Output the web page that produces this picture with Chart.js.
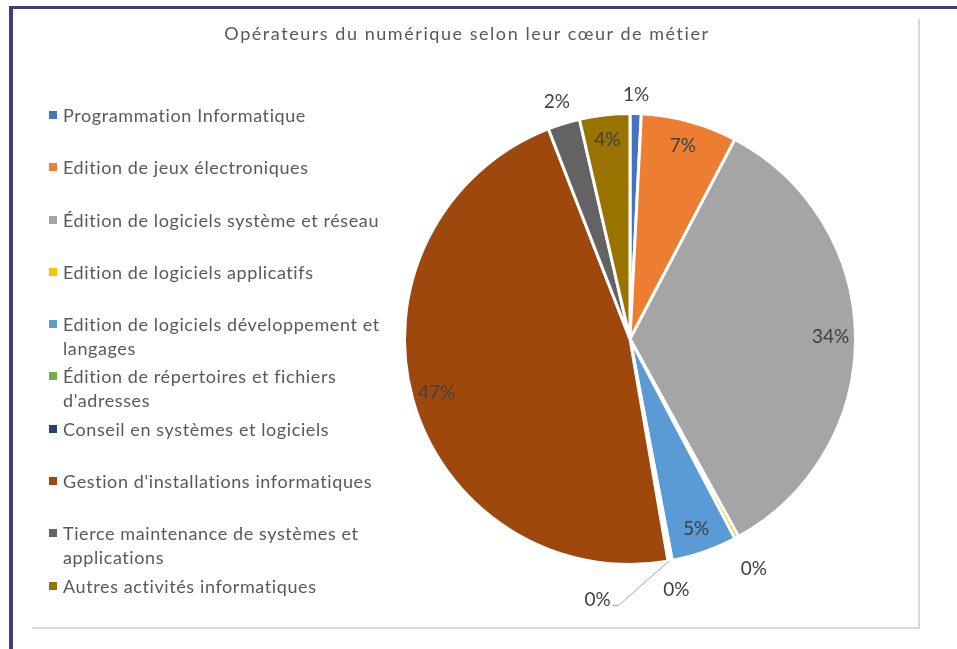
<!DOCTYPE html>
<html lang="fr">
<head>
<meta charset="utf-8">
<script src="https://cdn.jsdelivr.net/npm/chart.js@4.4.1/dist/chart.umd.min.js"></script>
<style>
  html, body { margin: 0; padding: 0; background: #fff; }
  body { width: 957px; height: 649px; position: relative; overflow: hidden; font-family: Lato, 'Open Sans', sans-serif; }
  #frame { position: absolute; left: 9px; top: 6px; right: 0; bottom: 0; border-left: 4px solid #4a3a78; border-top: 3px solid #4a3a78; }
  #box { position: absolute; left: 32px; top: 19px; width: 886px; height: 608px; border-right: 2px solid #dadada; border-bottom: 2px solid #dadada; }
  #chart { position: absolute; left: 0; top: 0; }
  #title { position: absolute; left: 0; width: 934px; top: 22px; text-align: center; font-size: 18px; letter-spacing: 1.55px; color: #595959; }
  #legend { position: absolute; left: 49px; top: 103px; margin: 0; padding: 0; list-style: none; }
  #legend li { position: relative; height: 52.3px; padding-left: 14px; width: 325px; font-size: 18px; letter-spacing: 0.6px; line-height: 24px; color: #595959; }
  #legend li span { position: absolute; left: 0; top: 8px; width: 8px; height: 8px; }
</style>
</head>
<body>
<div id="frame"></div>
<div id="box"></div>
<canvas id="chart" width="957" height="649"></canvas>
<div id="title">Opérateurs du numérique selon leur cœur de métier</div>
<ul id="legend"></ul>
<script>
const categories = [
  'Programmation Informatique',
  'Edition de jeux électroniques',
  'Édition de logiciels système et réseau',
  'Edition de logiciels applicatifs',
  'Edition de logiciels développement et langages',
  'Édition de répertoires et fichiers d\'adresses',
  'Conseil en systèmes et logiciels',
  'Gestion d\'installations informatiques',
  'Tierce maintenance de systèmes et applications',
  'Autres activités informatiques'
];
const shares = [0.8, 6.9, 34.3, 0.3, 4.7, 0.2, 0.1, 46.8, 2.3, 3.6];
const colors = ['#4472c4', '#ed7d31', '#a5a5a5', '#ffc000', '#5b9bd5', '#70ad47', '#264478', '#9e480e', '#636363', '#997300'];

const legend = document.getElementById('legend');
categories.forEach((name, i) => {
  const li = document.createElement('li');
  const sw = document.createElement('span');
  sw.style.background = colors[i];
  li.appendChild(sw);
  li.appendChild(document.createTextNode(name));
  legend.appendChild(li);
});

const pieLabels = {
  id: 'pieLabels',
  afterDatasetsDraw(chart, args, opts) {
    const ctx = chart.ctx;
    const meta = chart.getDatasetMeta(0);
    const values = chart.data.datasets[0].data;
    const total = values.reduce((a, b) => a + b, 0);
    ctx.save();
    ctx.font = opts.font;
    ctx.fillStyle = opts.color;
    ctx.textAlign = 'center';
    ctx.textBaseline = 'middle';
    meta.data.forEach((arc, i) => {
      const {x, y, startAngle, endAngle, outerRadius} = arc.getProps(['x', 'y', 'startAngle', 'endAngle', 'outerRadius'], true);
      const text = Math.round(values[i] / total * 100) + '%';
      const mid = (startAngle + endAngle) / 2;
      const out = opts.outside[i];
      let r = outerRadius * opts.inside;
      let a = mid;
      if (out) {
        r = outerRadius + out.dr;
        a += (out.da || 0) * Math.PI / 180;
      }
      const lx = x + Math.cos(a) * r;
      const ly = y + Math.sin(a) * r;
      if (out && out.leader) {
        const w = ctx.measureText(text).width / 2;
        ctx.strokeStyle = opts.leaderColor;
        ctx.lineWidth = 1;
        ctx.beginPath();
        ctx.moveTo(x + Math.cos(mid) * outerRadius, y + Math.sin(mid) * outerRadius);
        ctx.lineTo(lx + w + 8, ly + 6);
        ctx.lineTo(lx + w + 2, ly + 6);
        ctx.stroke();
      }
      ctx.fillText(text, lx, ly);
    });
    ctx.restore();
  }
};

new Chart(document.getElementById('chart'), {
  type: 'pie',
  data: {
    labels: categories,
    datasets: [{
      data: shares,
      backgroundColor: colors,
      borderColor: '#ffffff',
      borderWidth: 3
    }]
  },
  options: {
    responsive: false,
    animation: false,
    layout: { padding: { left: 403, right: 100, top: 112, bottom: 83 } },
    plugins: {
      legend: { display: false },
      tooltip: { enabled: false },
      pieLabels: {
        font: '19px Lato, sans-serif',
        color: '#404040',
        leaderColor: '#a6a6a6',
        inside: 0.89,
        outside: {
          0: { dr: 19 },
          3: { dr: 36 },
          5: { dr: 30 },
          6: { dr: 37, da: 17, leader: true },
          8: { dr: 23 }
        }
      }
    }
  },
  plugins: [pieLabels]
});
</script>
</body>
</html>
